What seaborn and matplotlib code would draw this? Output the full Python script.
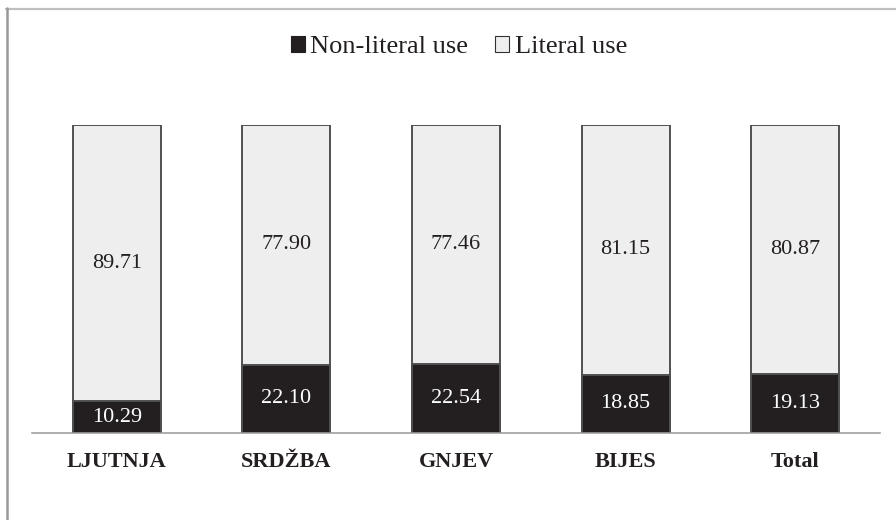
import matplotlib
matplotlib.use("Agg")
import matplotlib.pyplot as plt
from matplotlib.lines import Line2D
from matplotlib.patches import Patch
import seaborn as sns
import pandas as pd

# Share of non-literal vs literal uses per anger lexeme (percent)
categories = ["LJUTNJA", "SRDŽBA", "GNJEV", "BIJES", "Total"]
non_literal = [10.29, 22.10, 22.54, 18.85, 19.13]
literal = [89.71, 77.90, 77.46, 81.15, 80.87]
series_names = ["Non-literal use", "Literal use"]

DARK = "#231f20"
LIGHT = "#eeeeee"
EDGE = "#505050"

sns.set_style("white")
plt.rcParams["font.family"] = ["Liberation Serif", "DejaVu Serif"]

df = pd.DataFrame({
    "category": categories,
    "non_literal": non_literal,
    "literal": literal,
})
df["total"] = df["non_literal"] + df["literal"]

fig = plt.figure(figsize=(8.96, 5.2), dpi=100)
ax = fig.add_axes([32 / 896, 1 - 433 / 520, (880 - 32) / 896, (433 - 125) / 520])

bar_w = 0.52
# full stack (light) then the non-literal part (dark) on top of it
sns.barplot(data=df, x="category", y="total", order=categories, color=LIGHT,
            width=bar_w, edgecolor=EDGE, linewidth=1.4, saturation=1, ax=ax)
sns.barplot(data=df, x="category", y="non_literal", order=categories, color=DARK,
            width=bar_w, edgecolor=EDGE, linewidth=1.4, saturation=1, ax=ax)

for i, row in df.iterrows():
    ax.text(i, row["non_literal"] / 2, f"{row['non_literal']:.2f}",
            ha="center", va="center", color="white", fontsize=16)
    ax.text(i, row["non_literal"] + row["literal"] / 2, f"{row['literal']:.2f}",
            ha="center", va="center", color=DARK, fontsize=16)

ax.set_xlim(-0.5, len(categories) - 0.5)
ax.set_ylim(0, 100)
ax.set_xlabel("")
ax.set_ylabel("")
ax.set_yticks([])
for side in ["top", "right", "left"]:
    ax.spines[side].set_visible(False)
ax.spines["bottom"].set_color("#999999")
ax.spines["bottom"].set_linewidth(1.1)
ax.spines["bottom"].set_zorder(5)
ax.tick_params(axis="x", length=0, pad=14)
for lbl in ax.get_xticklabels():
    lbl.set_fontweight("bold")
    lbl.set_fontsize(16)
    lbl.set_color(DARK)

handles = [
    Patch(facecolor=DARK, edgecolor=DARK, linewidth=0.8),
    Patch(facecolor=LIGHT, edgecolor="#333333", linewidth=0.8),
]
fig.legend(handles, series_names, loc="center", bbox_to_anchor=(0.512, 1 - 47 / 520),
           ncol=2, frameon=False, fontsize=19, handlelength=0.55, handleheight=0.55,
           handletextpad=0.2, columnspacing=1.0, labelcolor=DARK)

# outer frame (top and left edges)
fig.add_artist(Line2D([6 / 896, 1], [1 - 8.5 / 520, 1 - 8.5 / 520],
                      transform=fig.transFigure, color="#c0c0c0", linewidth=1.6))
fig.add_artist(Line2D([7 / 896, 7 / 896], [0, 1 - 8 / 520],
                      transform=fig.transFigure, color="#999999", linewidth=1.8))

fig.savefig("out.png", dpi=100, facecolor="white")
